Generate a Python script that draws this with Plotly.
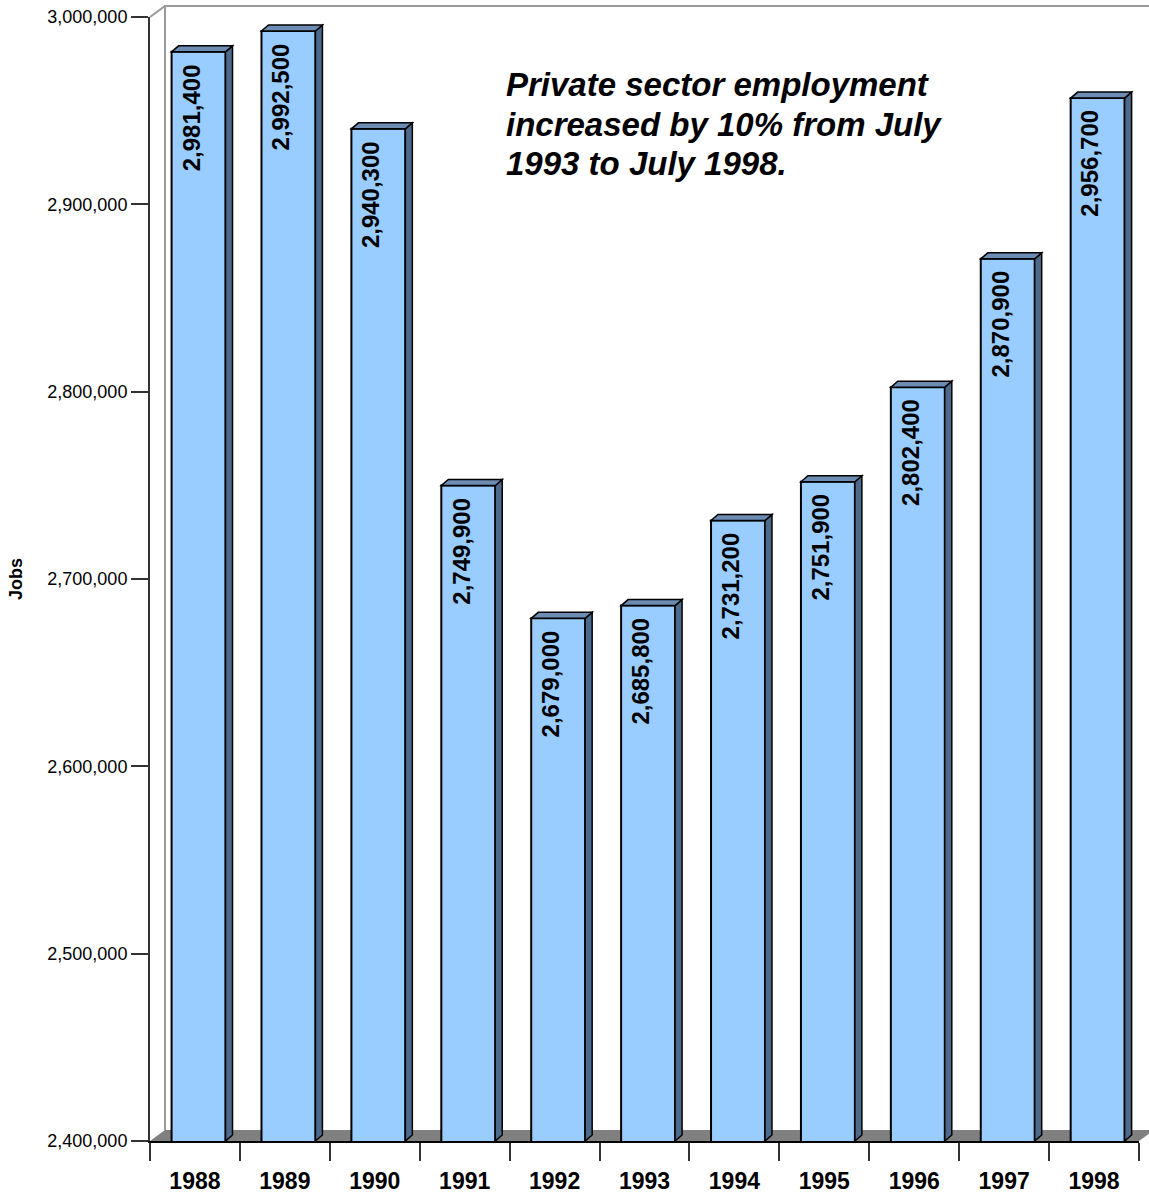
import plotly.graph_objects as go

# ---------------- data ----------------
years = ["1988", "1989", "1990", "1991", "1992", "1993", "1994", "1995", "1996", "1997", "1998"]
jobs = [2981400, 2992500, 2940300, 2749900, 2679000, 2685800, 2731200, 2751900, 2802400, 2870900, 2956700]
y_ticks = [2400000, 2500000, 2600000, 2700000, 2800000, 2900000, 3000000]
y_title = "Jobs"
note_lines = ["Private sector employment", "increased by 10% from July", "1993 to July 1998."]

# ---------------- layout geometry ----------------
W, H = 1149, 1193
ML, MR, MT, MB = 150, 10, 17, 52
PW = W - ML - MR
PH = H - MT - MB
Y0, Y1 = y_ticks[0], y_ticks[-1]
NCAT = len(years)
ux = NCAT / PW            # category units per pixel
uy = (Y1 - Y0) / PH       # value units per pixel

BAR_W = 0.6
BAR_OFF = -0.26
DXB, DYB = 7 * ux, 6 * uy          # bar depth offsets (data units)
DXW, DYW = 15 / PW, 11 / PH        # wall depth offsets (paper units)

FRONT = "#99CCFF"
SIDE = "#4C6A8C"
TOP = "#6C8CB4"
FLOOR = "#808080"
WALL = "#9A9A9A"
FONT = "Arial, 'Liberation Sans', sans-serif"

fig = go.Figure()
fig.add_trace(go.Bar(
    x=years, y=jobs, width=BAR_W, offset=BAR_OFF,
    marker=dict(color=FRONT, line=dict(color="black", width=2)),
    hovertemplate="%{x}: %{y:,}<extra></extra>",
))

shapes = []
# floor
shapes.append(dict(type="path", xref="paper", yref="paper", layer="below",
                   path=f"M0,0 L1,0 L{1 + DXW},{DYW} L{DXW},{DYW} Z",
                   fillcolor=FLOOR, line=dict(width=0)))
# back wall edges
shapes.append(dict(type="path", xref="paper", yref="paper", layer="below",
                   path=f"M0,1 L{DXW},{1 + DYW} L{1 + 2 * DXW},{1 + DYW}",
                   line=dict(color=WALL, width=2)))
shapes.append(dict(type="path", xref="paper", yref="paper", layer="below",
                   path=f"M{DXW},{1 + DYW} L{DXW},{DYW}",
                   line=dict(color=WALL, width=2)))

annotations = []
for i, v in enumerate(jobs):
    xl = i + BAR_OFF
    xr = xl + BAR_W
    # side face
    shapes.append(dict(type="path", xref="x", yref="y", layer="above",
                       path=f"M{xr},{v} L{xr + DXB},{v + DYB} L{xr + DXB},{Y0 + DYB} L{xr},{Y0} Z",
                       fillcolor=SIDE, line=dict(color="black", width=1.5)))
    # top face
    shapes.append(dict(type="path", xref="x", yref="y", layer="above",
                       path=f"M{xl},{v} L{xr},{v} L{xr + DXB},{v + DYB} L{xl + DXB},{v + DYB} Z",
                       fillcolor=TOP, line=dict(color="black", width=1.5)))
    annotations.append(dict(x=i, y=v, xref="x", yref="y", text=f"<b>{v:,}</b>",
                            textangle=-90, showarrow=False, xanchor="center", yanchor="top",
                            yshift=-10, xshift=-4,
                            font=dict(family=FONT, size=24, color="black")))

# note text, one annotation per line for tighter line spacing
NOTE_TOP = 64
NOTE_STEP = 39.5
for k, line in enumerate(note_lines):
    annotations.append(dict(x=(504 - ML) / PW, y=1 - (NOTE_TOP + k * NOTE_STEP - MT) / PH,
                            xref="paper", yref="paper",
                            xanchor="left", yanchor="top", align="left", showarrow=False,
                            text=f"<b><i>{line}</i></b>",
                            font=dict(family=FONT, size=33, color="black")))

fig.update_layout(
    width=W, height=H,
    margin=dict(l=ML, r=MR, t=MT, b=MB, pad=0, autoexpand=False),
    paper_bgcolor="white", plot_bgcolor="white",
    showlegend=False, bargap=0.4,
    shapes=shapes, annotations=annotations,
    font=dict(family=FONT, color="black"),
    xaxis=dict(type="category", tickson="boundaries", ticks="outside", ticklen=18,
               tickcolor="#333333", tickwidth=1.5, showline=True, linecolor="black", linewidth=2,
               showgrid=False, zeroline=False, ticklabelstandoff=18, automargin=False,
               tickfont=dict(family=FONT, size=23, color="black", weight="bold")),
    yaxis=dict(range=[Y0, Y1], tickvals=y_ticks, tickformat=",", ticks="outside", ticklen=17,
               tickcolor="#333333", tickwidth=1.5, showline=True, linecolor="#333333", linewidth=2,
               showgrid=False, zeroline=False, automargin=False,
               tickfont=dict(family=FONT, size=18, color="black"),
               title=dict(text=f"<b>{y_title}</b>", standoff=20,
                          font=dict(family=FONT, size=18, color="black"))),
)

fig.write_html("out.html", config={"displayModeBar": False},
               post_script="document.body.style.margin='0';")
